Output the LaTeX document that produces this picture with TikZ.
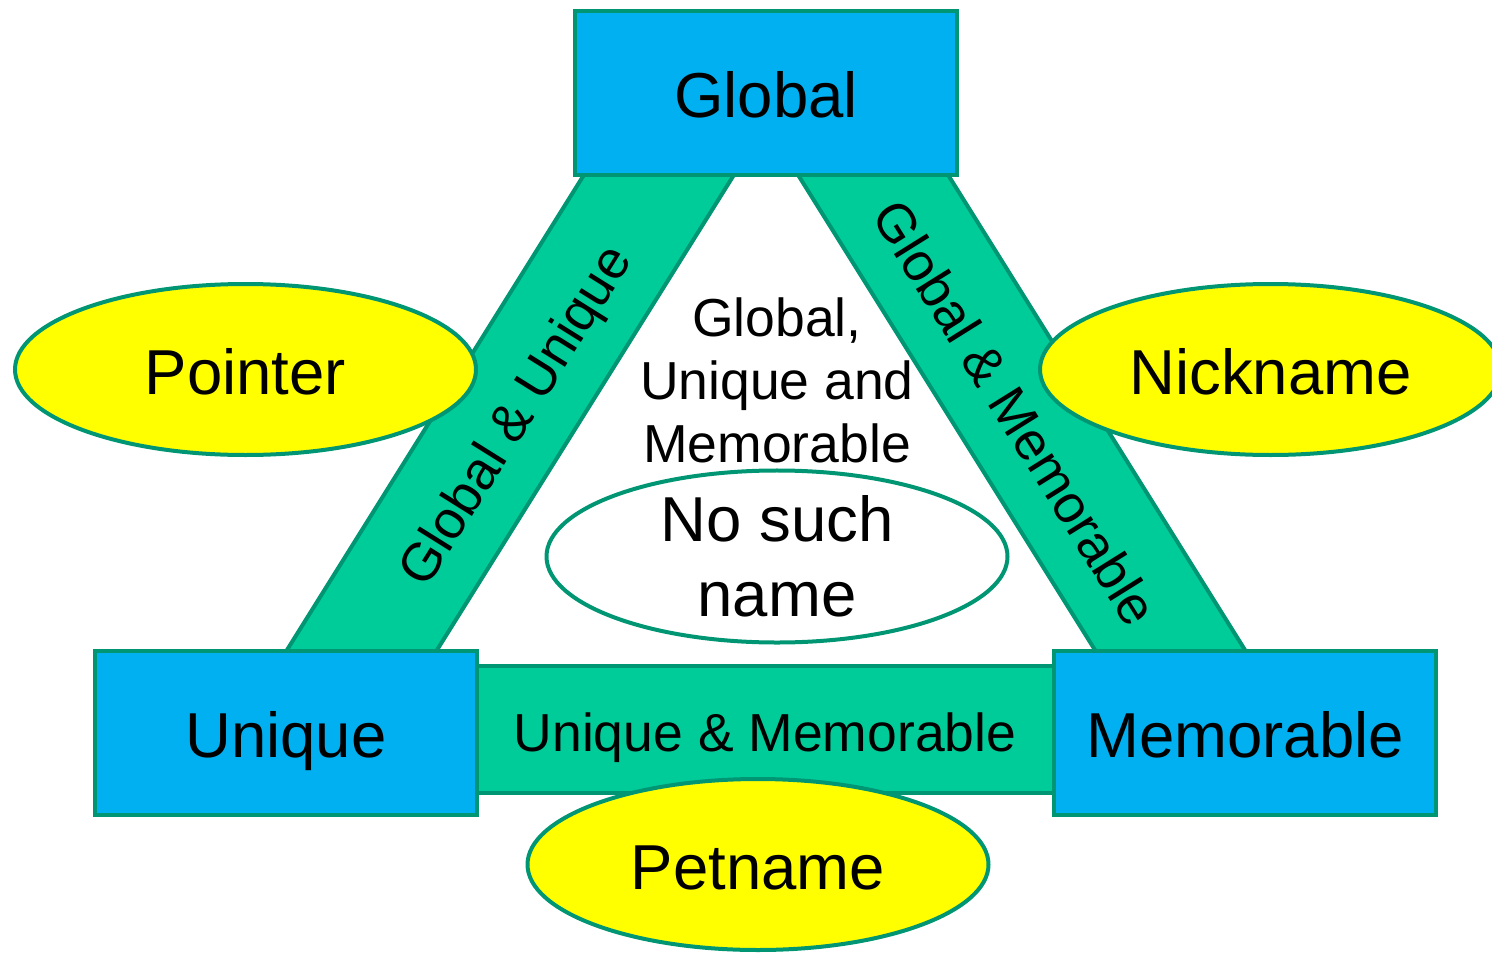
\documentclass[tikz,border=0pt]{standalone}
\usepackage{fontspec}
\setmainfont{Liberation Sans}
\usetikzlibrary{shapes.geometric}
\definecolor{edgegreen}{RGB}{0,150,115}
\definecolor{bargreen}{RGB}{0,204,153}
\definecolor{boxblue}{RGB}{0,176,240}
\definecolor{ellyellow}{RGB}{255,255,0}
\newcommand\bigtxt{\fontsize{63.5}{75}\selectfont}
\newcommand\smalltxt{\fontsize{53.5}{63}\selectfont}
\begin{document}
\begin{tikzpicture}[x=1pt,y=-1pt,
  outl/.style={draw=edgegreen, line width=4pt, line join=miter},
  box/.style={outl, fill=boxblue, rectangle, minimum width=382pt, minimum height=164pt,
    inner sep=0pt, font=\bigtxt, text height=49pt, text depth=0pt},
  ell/.style={outl, ellipse, minimum width=461pt, minimum height=171pt, inner sep=0pt, font=\bigtxt},
  yell/.style={ell, fill=ellyellow, text height=49pt, text depth=0pt},
  barfill/.style={outl, fill=bargreen},
  barlabel/.style={font=\smalltxt, inner sep=0pt, text height=44pt, text depth=0pt}]
\useasboundingbox (0,0) rectangle (1492,953);
% bar corners (ends run under the boxes)
\coordinate (l1) at (593.25,160);
\coordinate (l2) at (743.25,160);
\coordinate (l3) at (418.25,680);
\coordinate (l4) at (268.25,680);
\coordinate (r1) at (788.75,160);
\coordinate (r2) at (938.75,160);
\coordinate (r3) at (1263.75,680);
\coordinate (r4) at (1113.75,680);
\coordinate (b1) at (460,666);
\coordinate (b2) at (1070,666);
\coordinate (b3) at (1070,793);
\coordinate (b4) at (460,793);
% bars
\draw[barfill] (l1) -- (l2) -- (l3) -- (l4) -- cycle;
\draw[barfill] (r1) -- (r2) -- (r3) -- (r4) -- cycle;
\draw[barfill] (b1) -- (b2) -- (b3) -- (b4) -- cycle;
% bar labels
\node[barlabel, rotate=58] (lgu) at (511,413) {Global \& Unique};
\node[barlabel, rotate=-58] (lgm) at (1018,411) {Global \& Memorable};
\node[barlabel] (lum) at (765,729.5) {Unique \& Memorable};
% boxes
\node[box] (G) at (766,93) {Global};
\node[box] (U) at (286,732.5) {Unique};
\node[box] (M) at (1245,732.5) {Memorable};
% ellipses
\node[yell] (P) at (245.5,369.5) {Pointer};
\node[yell] (N) at (1270.5,369.5) {Nickname};
\node[yell] (Pet) at (758,864.5) {Petname};
\node[ell, fill=white, align=center] (NS) at (777,556.5) {No such\\name};
% central text
\node[font=\smalltxt, align=center, inner sep=0pt] (GUM) at (777,380) {Global,\\Unique and\\Memorable};
\end{tikzpicture}
\end{document}
